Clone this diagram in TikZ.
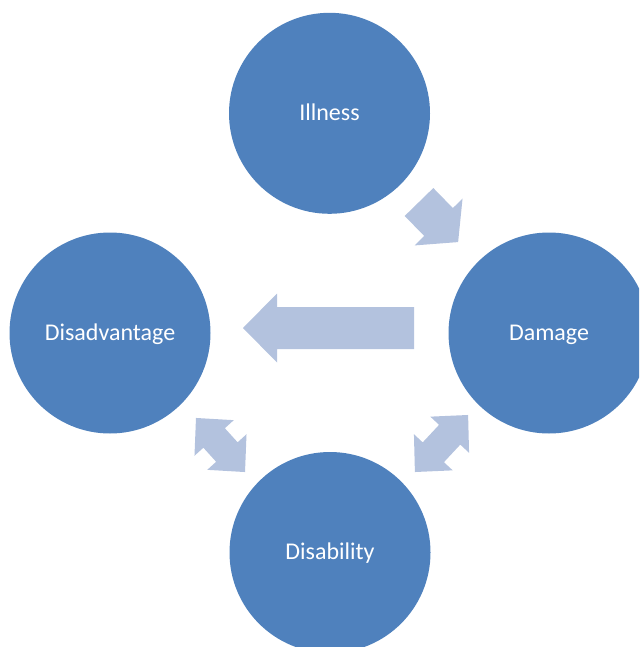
\documentclass[tikz,border=0pt]{standalone}
\usepackage{fontspec}
\setmainfont{Carlito}
\usepackage{tikz}
\usetikzlibrary{calc, positioning}

\definecolor{circblue}{HTML}{4F81BD}
\definecolor{arrowblue}{HTML}{B3C2DE}

\tikzset{
    stage/.style={circle, fill=circblue, minimum size=201pt, inner sep=0pt, text=white,
        text height=14pt, text depth=0pt, font=\fontsize{24}{29}\selectfont},
    blockarrow/.style={fill=arrowblue}
}

\begin{document}
\begin{tikzpicture}[x=1pt, y=-1pt]
                \useasboundingbox (0,0) rectangle (639,647);
                \clip (0,0) rectangle (639,647);

                \node[stage] (illness) at (329.5, 113.3) {Illness};
                \node[stage] (damage) at (549, 333) {Damage};
                \node[stage] (disadvantage) at (110, 333) {Disadvantage};
                \node[stage] (disability) at (330, 552.5) {Disability};

                % single arrows: illness to damage, damage to disadvantage
                \fill[blockarrow, shift={(419,202)}, rotate=-45.7]
                    (0,20) -- (28,20) -- (28,33.5) -- (56,0) -- (28,-33.5) -- (28,-20) -- (0,-20) -- cycle;
                \fill[blockarrow, shift={(414,328)}, rotate=180]
                    (0,21) -- (137,21) -- (137,34.5) -- (171,0) -- (137,-34.5) -- (137,-21) -- (0,-21) -- cycle;

                % double arrows next to disability
                \foreach \cx/\cy/\ang/\len in {220.5/445/-47.8/73, 441.5/443.5/47/78}
                    \fill[blockarrow, shift={(\cx,\cy)}, rotate=\ang]
                        (-\len/2,0) -- (-\len/2+27,26.5) -- (-\len/2+27,14.5) -- (\len/2-27,14.5)
                        -- (\len/2-27,26.5) -- (\len/2,0) -- (\len/2-27,-26.5) -- (\len/2-27,-14.5)
                        -- (-\len/2+27,-14.5) -- (-\len/2+27,-26.5) -- cycle;
            \end{tikzpicture}
\end{document}
